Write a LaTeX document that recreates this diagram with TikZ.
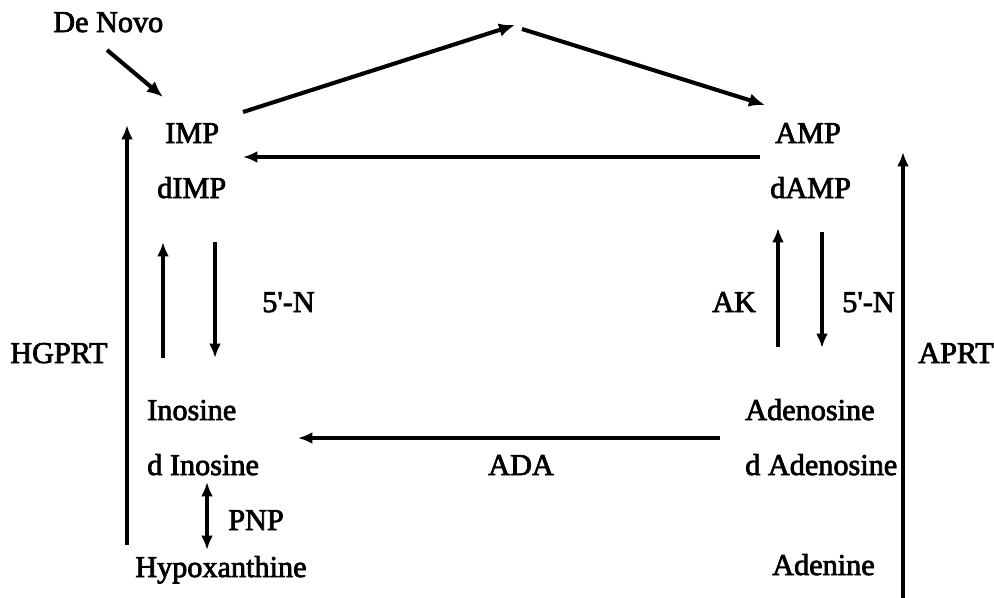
\documentclass[tikz,border=0pt]{standalone}
\usepackage{fontspec}
\newfontfamily\scanfont{Liberation Serif}[FakeBold=2.5]
\usetikzlibrary{arrows.meta}

\tikzset{
  lbl/.style={anchor=base west, inner sep=0pt, font=\scanfont\fontsize{21.5}{24}\selectfont},
  flow/.style={line width=2.2pt, -{Latex[length=3.6mm,width=3mm]}},
  flowboth/.style={line width=2.2pt, {Latex[length=3.6mm,width=3mm]}-{Latex[length=3.6mm,width=3mm]}},
  bigflow/.style={line width=2.9pt, -{Latex[length=4mm,width=3.4mm]}}
}

\begin{document}
\begin{tikzpicture}[x=0.025cm, y=-0.025cm]
         \useasboundingbox (0,0) rectangle (994,598);

         % metabolites
         \node[lbl] (denovo) at (53,32) {De Novo};
         \node[lbl] (imp) at (165,143) {IMP};
         \node[lbl] (dimp) at (157,198) {dIMP};
         \node[lbl] (amp) at (775,143) {AMP};
         \node[lbl] (damp) at (770,198) {dAMP};
         \node[lbl] (ino) at (147,420) {Inosine};
         \node[lbl] (dino) at (147,475) {d Inosine};
         \node[lbl] (ado) at (745,420) {Adenosine};
         \node[lbl] (dado) at (745,475) {d Adenosine};
         \node[lbl] (hyp) at (135,577) {Hypoxanthine};
         \node[lbl] (ade) at (772,575) {Adenine};

         % enzymes
         \node[lbl] (hgprt) at (10,363) {HGPRT};
         \node[lbl] (aprt) at (918,363) {APRT};
         \node[lbl] (nl) at (262,312) {5'-N};
         \node[lbl] (ak) at (712,312) {AK};
         \node[lbl] (nr) at (842,312) {5'-N};
         \node[lbl] (ada) at (488,475) {ADA};
         \node[lbl] (pnp) at (228,530) {PNP};

         % arrow end points
         \coordinate (dn1) at (107,50);   \coordinate (dn2) at (163,97);
         \coordinate (hg1) at (127,545);  \coordinate (hg2) at (127,125);
         \coordinate (lu1) at (163,358);  \coordinate (lu2) at (163,242);
         \coordinate (ld1) at (215,242);  \coordinate (ld2) at (215,358);
         \coordinate (pn1) at (207,482);  \coordinate (pn2) at (207,550);
         \coordinate (tp1) at (243,112);  \coordinate (tp2) at (515,25);
         \coordinate (tp3) at (522,29);   \coordinate (tp4) at (765,105);
         \coordinate (am1) at (760,157);  \coordinate (am2) at (243,157);
         \coordinate (ad1) at (720,438);  \coordinate (ad2) at (298,438);
         \coordinate (ak1) at (778,347);  \coordinate (ak2) at (778,228);
         \coordinate (rd1) at (822,232);  \coordinate (rd2) at (822,348);
         \coordinate (ap1) at (903,598);  \coordinate (ap2) at (903,152);

         \draw[bigflow] (dn1) -- (dn2);
         \draw[bigflow] (tp1) -- (tp2);
         \draw[bigflow] (tp3) -- (tp4);
         \draw[flow] (am1) -- (am2);
         \draw[flow] (hg1) -- (hg2);
         \draw[flow] (lu1) -- (lu2);
         \draw[flow] (ld1) -- (ld2);
         \draw[flowboth] (pn1) -- (pn2);
         \draw[flow] (ad1) -- (ad2);
         \draw[flow] (ak1) -- (ak2);
         \draw[flow] (rd1) -- (rd2);
         \draw[flow] (ap1) -- (ap2);
\end{tikzpicture}
\end{document}
